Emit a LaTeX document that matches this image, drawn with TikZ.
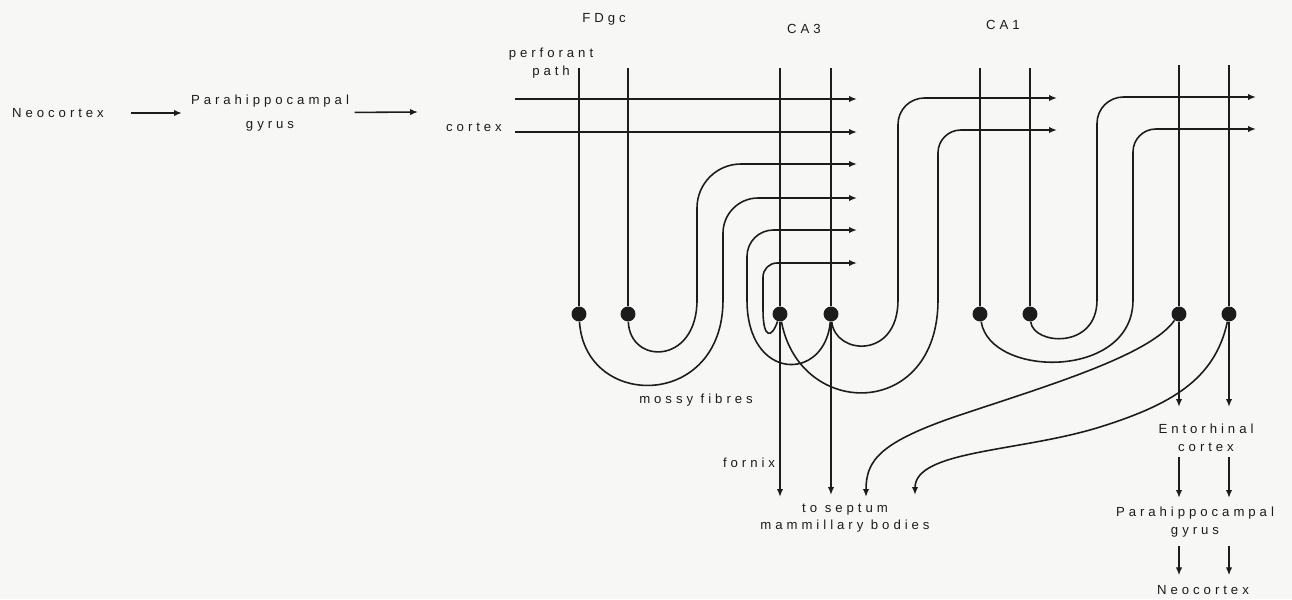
\documentclass[tikz,border=0pt]{standalone}
\usepackage{fontspec}
\setmainfont{Liberation Sans}
\newfontfamily\spaced[LetterSpace=30]{Liberation Sans}
\usetikzlibrary{arrows.meta}
\definecolor{paper}{RGB}{247,247,245}
\definecolor{ink}{RGB}{28,28,28}
\begin{document}
\begin{tikzpicture}[x=0.02cm,y=-0.02cm,
		axon/.style={ink,line width=0.9pt},
		proj/.style={axon,-{Latex[length=4.5pt,width=3.6pt]}},
		cell/.style={circle,fill=ink,inner sep=0pt,minimum size=8.5pt},
		lab/.style={font={\spaced\fontsize{7.5}{10}\selectfont},text=ink,inner sep=1pt,align=center}]
			\fill[paper] (0,0) rectangle (1292,599);
			\useasboundingbox (0,0) rectangle (1292,599);
			% labels
			\node[lab] (neoL) at (58,113) {Neocortex};
			\node[lab] (paraL) at (270,113) {Parahippocampal\\[4pt]gyrus};
			\node[lab] (ctx) at (474,127) {cortex};
			\node[lab] (pp) at (551,63) {perforant\\path};
			\node[lab] (fdgc) at (604,19) {FDgc};
			\node[lab] (ca3) at (804,29) {CA3};
			\node[lab] (ca1) at (1003,25) {CA1};
			\node[lab] (mossy) at (696,400) {mossy fibres};
			\node[lab] (fornix) at (749,463) {fornix};
			\node[lab] (septum) at (845,518) {to septum\\mammillary bodies};
			\node[lab] (ento) at (1206,438) {Entorhinal\\cortex};
			\node[lab] (pgR) at (1195,522) {Parahippocampal\\gyrus};
			\node[lab] (neoR) at (1203,590) {Neocortex};
			% cells
			\node[cell] (fd1) at (579,314) {};
			\node[cell] (fd2) at (628,314) {};
			\node[cell] (c1) at (780,314) {};
			\node[cell] (c2) at (831,314) {};
			\node[cell] (a1) at (980,314) {};
			\node[cell] (a2) at (1030,314) {};
			\node[cell] (s1) at (1179,314) {};
			\node[cell] (s2) at (1229,314) {};
			% free ends
			\coordinate (top) at (0,68);
			\coordinate (top2) at (0,65);
			\coordinate (ctxin) at (418,112);
			\coordinate (pp1) at (515,99);
			\coordinate (pp2) at (515,132);
			\coordinate (r1) at (857,99);
			\coordinate (r2) at (857,132);
			\coordinate (r3) at (857,164);
			\coordinate (r4) at (857,198);
			\coordinate (r5) at (857,230);
			\coordinate (r6) at (857,263);
			\coordinate (k1) at (1057,98);
			\coordinate (k2) at (1057,130);
			\coordinate (e1) at (1256,97);
			\coordinate (e2) at (1256,129);
			\coordinate (fx) at (780,497);
			\coordinate (sp) at (831,495);
			\coordinate (sm1) at (866,497);
			\coordinate (sm2) at (915,495);
			\coordinate (en1) at (1179,407);
			\coordinate (en2) at (1229,407);
			% input chain
			\draw[proj,shorten <=14pt,shorten >=4pt] (neoL) -- (paraL);
			\draw[proj,shorten <=2pt] (paraL) -- (ctxin);
			\foreach \n in {fd1,fd2,c1,c2,a1,a2} \draw[axon] (\n |- top) -- (\n);
			\foreach \n in {s1,s2} \draw[axon] (\n |- top2) -- (\n);
			\draw[proj] (pp1) -- (r1);
			\draw[proj] (pp2) -- (r2);
			% mossy fibres and collaterals
			\draw[proj] (fd2) .. controls (630,365) and (697,365) .. (697,300) [rounded corners=25pt] |- (r3);
			\draw[proj] (fd1) .. controls (585,410) and (723,410) .. (723,300) [rounded corners=20pt] |- (r4);
			\draw[proj] (c2) .. controls (825,382) and (747,382) .. (747,300) [rounded corners=15pt] |- (r5);
			\draw[proj] (c1) .. controls (772,338) and (763,340) .. (763,310) [rounded corners=8pt] |- (r6);
			\draw[proj] (c2) .. controls (835,355) and (898,360) .. (898,300) [rounded corners=15pt] |- (k1);
			\draw[proj] (c1) .. controls (800,420) and (938,420) .. (938,300) [rounded corners=13pt] |- (k2);
			\draw[proj] (a2) .. controls (1033,345) and (1097,350) .. (1097,300) [rounded corners=15pt] |- (e1);
			\draw[proj] (a1) .. controls (990,378) and (1133,380) .. (1133,300) [rounded corners=13pt] |- (e2);
			% outputs
			\draw[proj] (c1) -- (fx);
			\draw[proj] (c2) -- (sp);
			\draw[proj] (s1) .. controls (1150,355) and (1050,385) .. (960,415) .. controls (880,442) and (866,460) .. (sm1);
			\draw[proj] (s2) .. controls (1215,380) and (1170,405) .. (1100,427) .. controls (1020,452) and (915,450) .. (sm2);
			\draw[proj] (s1) -- (en1);
			\draw[proj] (s2) -- (en2);
			\foreach \n in {s1,s2} {
				\draw[proj,shorten <=2pt,shorten >=4pt] (ento.south -| \n) -- (pgR.north -| \n);
				\draw[proj,shorten <=4pt,shorten >=4.5pt] (pgR.south -| \n) -- (neoR.north -| \n);
			}
		\end{tikzpicture}
\end{document}
